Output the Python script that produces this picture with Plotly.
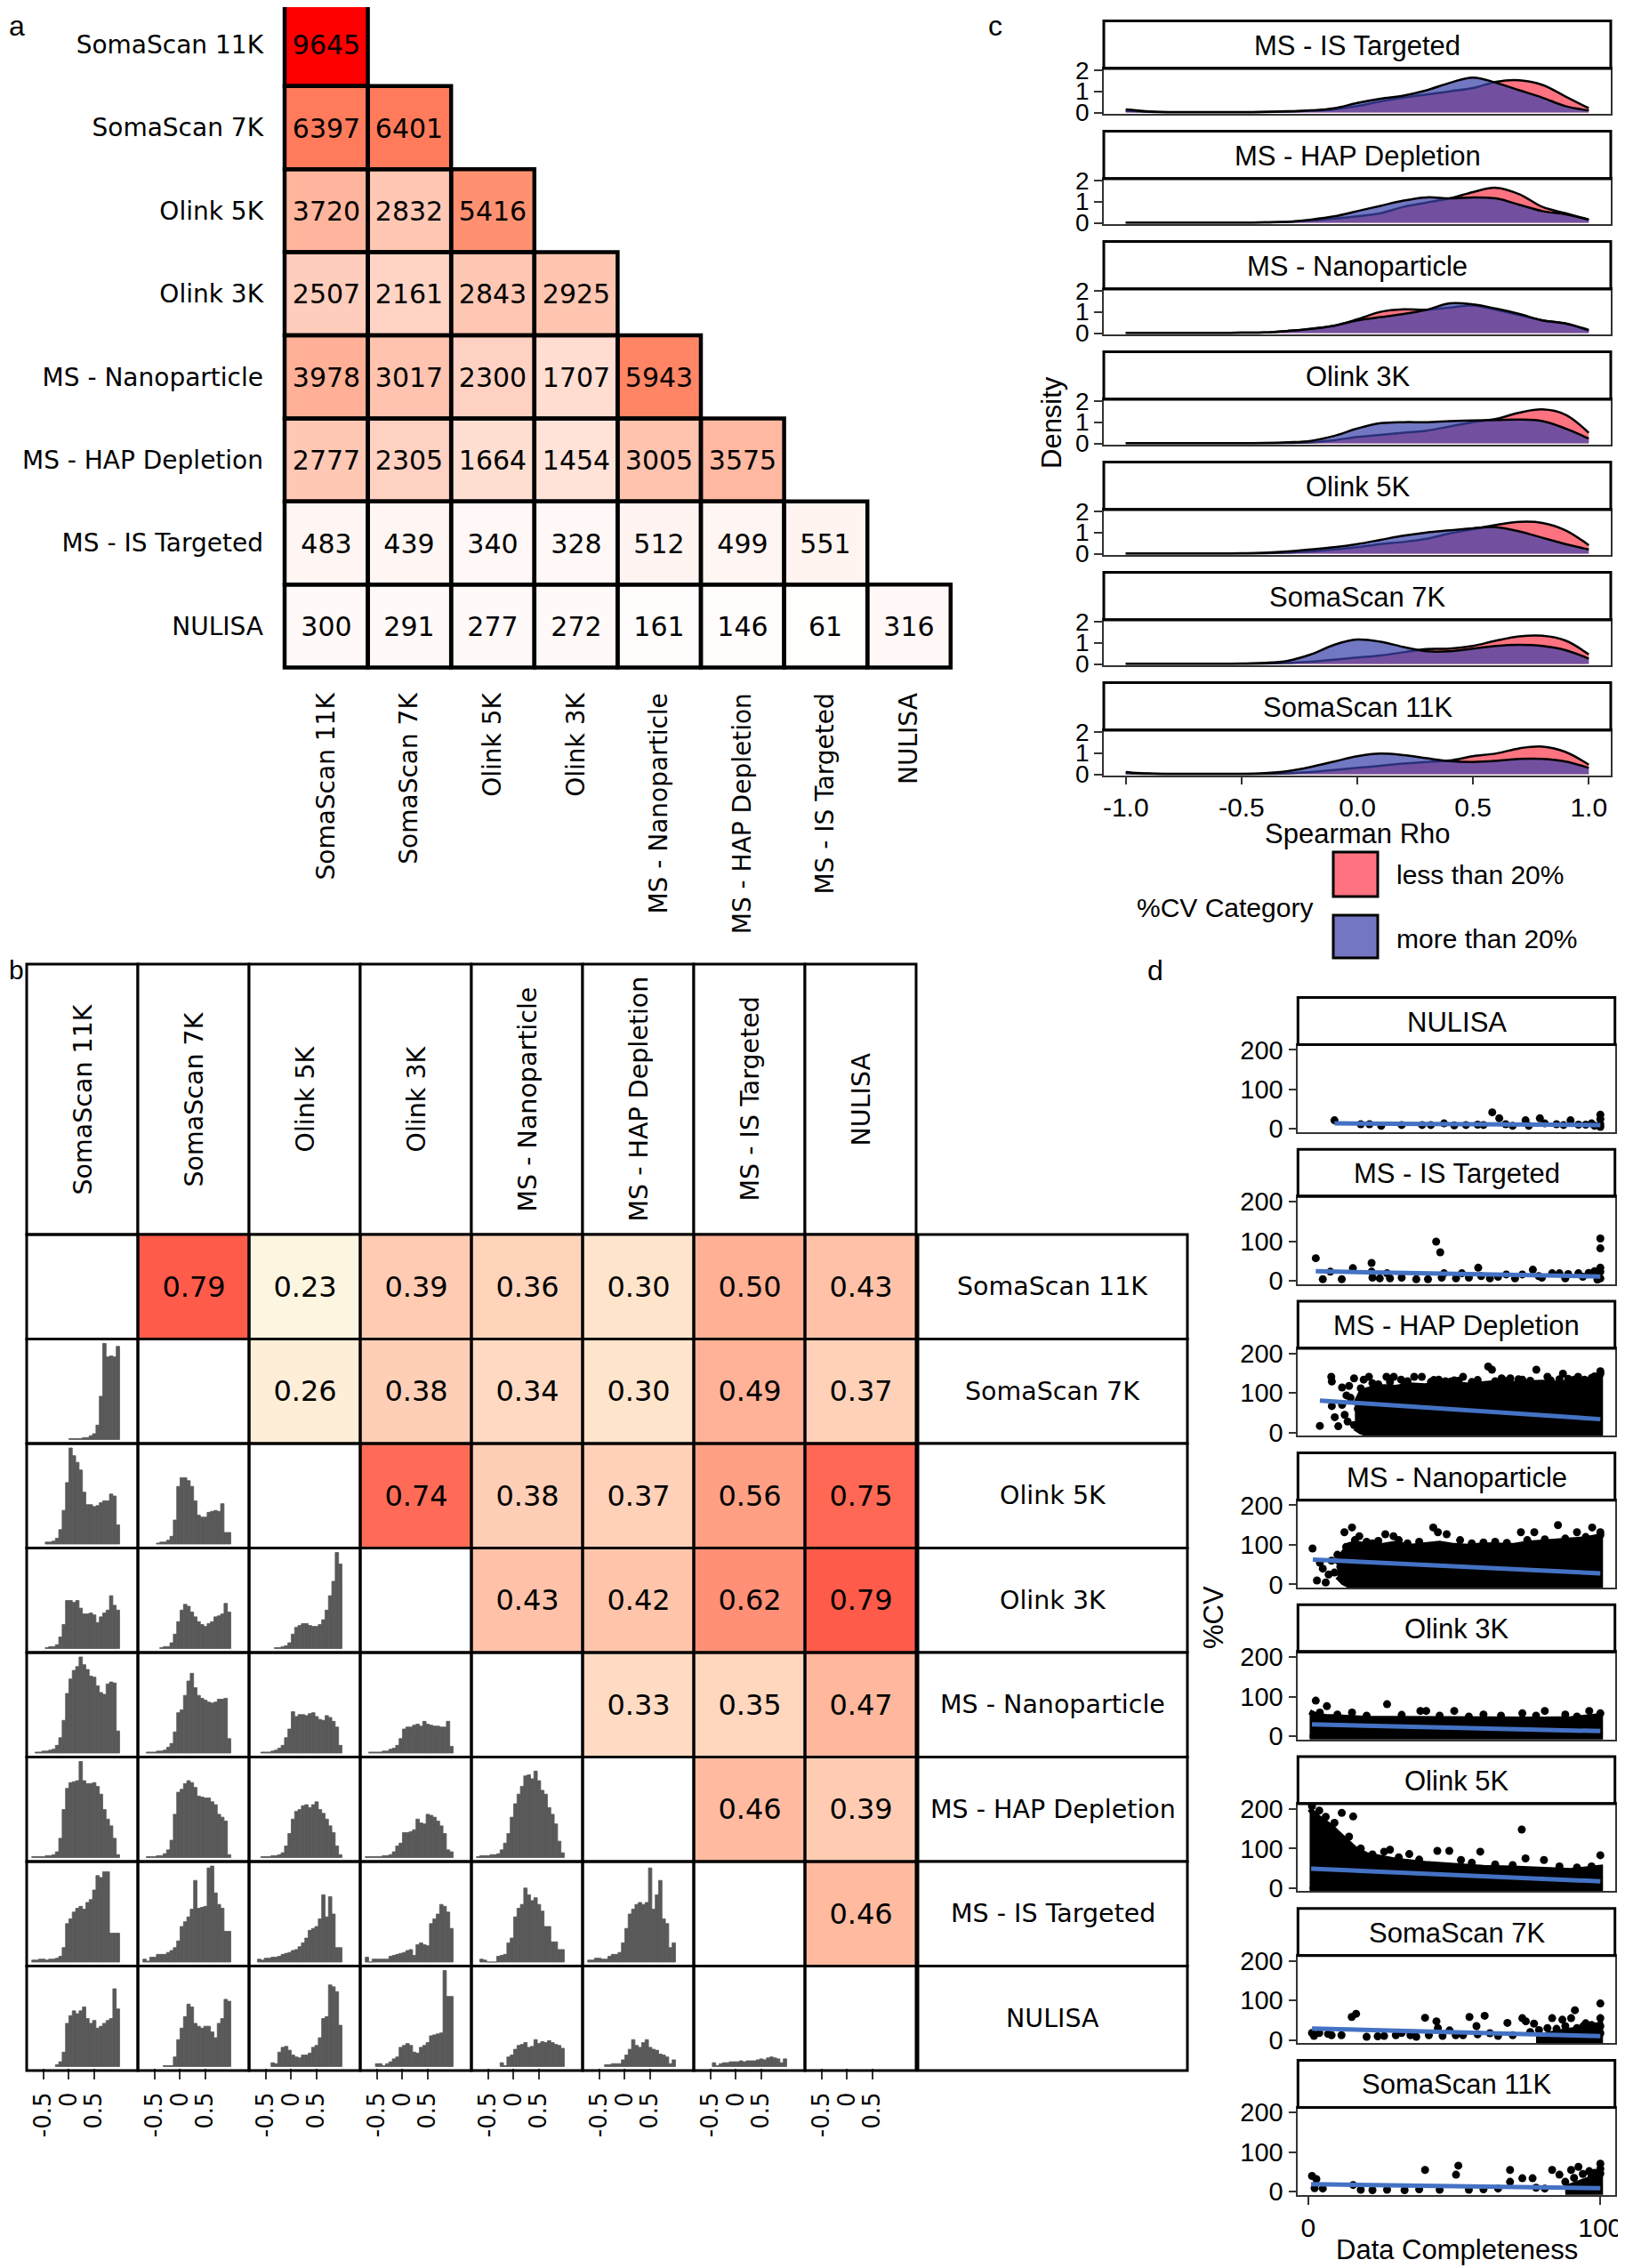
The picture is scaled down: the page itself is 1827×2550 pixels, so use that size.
import numpy as np
import plotly.graph_objects as go

W, H = 1827, 2550          # reference picture size
OFF = 8                    # page body margin in the browser
FIG_W, FIG_H = W - OFF, H - OFF

# ---------------------------------------------------------------- data
platforms = ["SomaScan 11K", "SomaScan 7K", "Olink 5K", "Olink 3K",
             "MS - Nanoparticle", "MS - HAP Depletion", "MS - IS Targeted", "NULISA"]

# panel a : overlap counts (lower triangle incl. diagonal)
overlap_counts = [
    [9645],
    [6397, 6401],
    [3720, 2832, 5416],
    [2507, 2161, 2843, 2925],
    [3978, 3017, 2300, 1707, 5943],
    [2777, 2305, 1664, 1454, 3005, 3575],
    [483, 439, 340, 328, 512, 499, 551],
    [300, 291, 277, 272, 161, 146, 61, 316],
]

# panel b : correlations (upper triangle)
corr_values = [
    [None, 0.79, 0.23, 0.39, 0.36, 0.30, 0.50, 0.43],
    [None, None, 0.26, 0.38, 0.34, 0.30, 0.49, 0.37],
    [None, None, None, 0.74, 0.38, 0.37, 0.56, 0.75],
    [None, None, None, None, 0.43, 0.42, 0.62, 0.79],
    [None, None, None, None, None, 0.33, 0.35, 0.47],
    [None, None, None, None, None, None, 0.46, 0.39],
    [None, None, None, None, None, None, None, 0.46],
    [None, None, None, None, None, None, None, None],
]

# panel b : histograms (row, col, first bin index, relative heights); bins of width 2/30 from -1
hist_bin_left = -1.0
hist_bin_width = 2 / 30
hist_r1 = [(1, 0, 15, [1, 1, 1, 1, 2, 2, 4, 6, 15, 45, 100, 86, 87, 86, 97])]
hist_r2 = [(2, 0, 8, [2, 2, 3, 6, 15, 35, 64, 100, 92, 85, 77, 54, 41, 41, 39, 40, 43, 45, 45, 52, 50, 20]),
           (2, 1, 8, [1, 2, 2, 4, 8, 25, 60, 69, 69, 66, 60, 45, 30, 28, 28, 33, 34, 35, 34, 42, 12, 12])]
hist_r3 = [(3, 0, 8, [1, 2, 2, 4, 12, 25, 50, 50, 48, 50, 42, 36, 36, 37, 35, 27, 33, 37, 40, 55, 45, 40]),
           (3, 1, 9, [1, 2, 2, 6, 15, 28, 40, 46, 44, 38, 33, 28, 25, 23, 26, 28, 33, 34, 36, 47, 38]),
           (3, 2, 10, [1, 1, 2, 3, 6, 15, 22, 24, 26, 26, 24, 23, 23, 25, 30, 40, 55, 70, 100, 88])]
hist_r4 = [(4, 0, 5, [1, 1, 2, 2, 3, 4, 8, 16, 34, 62, 77, 86, 90, 100, 92, 87, 80, 79, 70, 63, 61, 72, 74, 73, 23]),
           (4, 1, 5, [1, 1, 1, 2, 2, 3, 6, 10, 22, 42, 45, 60, 75, 83, 68, 60, 57, 55, 53, 52, 53, 56, 56, 57, 15]),
           (4, 2, 6, [1, 1, 1, 2, 3, 5, 8, 16, 25, 43, 38, 40, 40, 39, 41, 42, 38, 35, 34, 39, 37, 33, 27, 8]),
           (4, 3, 5, [1, 1, 1, 1, 2, 2, 4, 5, 8, 15, 25, 27, 27, 29, 30, 28, 33, 30, 29, 28, 28, 27, 27, 33, 7])]
hist_r5 = [(5, 0, 4, [1, 1, 1, 1, 2, 2, 3, 6, 20, 50, 72, 78, 79, 80, 100, 80, 77, 77, 78, 74, 66, 50, 40, 33, 20, 3]),
           (5, 1, 5, [1, 1, 1, 2, 2, 4, 8, 18, 45, 68, 71, 77, 80, 78, 73, 64, 63, 62, 62, 58, 55, 45, 42, 38, 3]),
           (5, 2, 6, [1, 1, 1, 2, 2, 3, 5, 12, 25, 40, 48, 50, 54, 55, 52, 55, 58, 50, 46, 40, 33, 26, 12, 3]),
           (5, 3, 4, [1, 1, 1, 1, 1, 2, 2, 3, 6, 12, 15, 26, 26, 27, 29, 40, 36, 35, 45, 44, 42, 38, 33, 25, 8, 6]),
           (5, 4, 4, [1, 2, 2, 2, 3, 3, 4, 8, 15, 25, 42, 56, 66, 74, 85, 86, 82, 90, 80, 70, 66, 52, 45, 35, 17, 5])]
hist_r6 = [(6, 0, 4, [2, 2, 3, 3, 2, 3, 3, 4, 6, 15, 40, 45, 52, 56, 58, 55, 62, 65, 75, 90, 88, 94, 94, 30, 30, 30]),
           (6, 1, 4, [3, 1, 5, 5, 8, 8, 8, 10, 12, 15, 22, 37, 42, 47, 55, 85, 56, 57, 58, 98, 100, 72, 60, 56, 32, 32]),
           (6, 2, 5, [3, 2, 4, 4, 5, 5, 6, 8, 9, 10, 12, 13, 16, 20, 25, 33, 35, 37, 45, 70, 47, 68, 50, 15, 15]),
           (6, 3, 4, [5, 0, 3, 3, 3, 3, 3, 6, 7, 8, 9, 10, 12, 13, 7, 18, 20, 18, 17, 40, 45, 50, 60, 58, 52, 35]),
           (6, 4, 5, [3, 2, 0, 0, 0, 6, 7, 8, 20, 25, 47, 56, 60, 77, 70, 64, 67, 60, 53, 37, 37, 21, 21, 13, 13]),
           (6, 5, 4, [2, 2, 4, 4, 3, 3, 6, 8, 8, 10, 20, 35, 50, 55, 60, 62, 60, 62, 98, 55, 70, 85, 45, 40, 15, 20])]
hist_r7 = [(7, 0, 11, [2, 5, 15, 45, 53, 58, 55, 58, 62, 50, 45, 48, 40, 42, 45, 48, 50, 81, 60]),
           (7, 1, 10, [1, 1, 1, 10, 28, 40, 52, 65, 62, 45, 42, 40, 42, 42, 36, 30, 45, 50, 70, 68]),
           (7, 2, 9, [4, 3, 15, 20, 21, 17, 12, 10, 9, 12, 12, 14, 20, 22, 30, 50, 52, 85, 83, 78, 43]),
           (7, 3, 7, [3, 3, 1, 3, 5, 8, 10, 20, 22, 24, 22, 15, 14, 20, 22, 25, 32, 33, 34, 35, 100, 73, 73]),
           (7, 4, 11, [4, 1, 10, 12, 18, 22, 23, 25, 20, 21, 28, 24, 26, 25, 27, 25, 23, 22, 19]),
           (7, 5, 9, [2, 2, 3, 3, 3, 7, 12, 18, 28, 22, 20, 25, 28, 20, 18, 17, 13, 12, 10, 3, 7]),
           (7, 6, 8, [4, 1, 3, 4, 4, 5, 5, 5, 6, 5, 6, 6, 6, 7, 8, 7, 9, 10, 9, 8, 4, 8])]
hist_tick_vals = [-0.5, 0, 0.5]
hist_tick_text = ["-0.5", "0", "0.5"]

# panel c : densities of Spearman rho by %CV category
rho_grid = [-1.0, -0.9, -0.8, -0.7, -0.6, -0.5, -0.4, -0.3, -0.2, -0.1, 0.0,
            0.1, 0.2, 0.3, 0.4, 0.5, 0.6, 0.7, 0.8, 0.9, 1.0]
density_facets = ["MS - IS Targeted", "MS - HAP Depletion", "MS - Nanoparticle",
                  "Olink 3K", "Olink 5K", "SomaScan 7K", "SomaScan 11K"]
less_is_targeted = [0.08, 0.03, 0.01, 0.01, 0.01, 0.01, 0.02, 0.04, 0.08, 0.15, 0.3, 0.52, 0.7, 0.85, 1.0, 1.15, 1.45, 1.52, 1.3, 0.75, 0.2]
more_is_targeted = [0.15, 0.05, 0.02, 0.02, 0.02, 0.02, 0.03, 0.06, 0.1, 0.2, 0.45, 0.65, 0.8, 1.05, 1.4, 1.65, 1.4, 1.05, 0.7, 0.3, 0.1]
less_hap = [0.01, 0.01, 0.01, 0.01, 0.01, 0.01, 0.02, 0.04, 0.1, 0.2, 0.3, 0.45, 0.75, 0.95, 1.15, 1.45, 1.65, 1.35, 0.75, 0.45, 0.15]
more_hap = [0.01, 0.01, 0.01, 0.01, 0.01, 0.01, 0.02, 0.05, 0.15, 0.3, 0.55, 0.8, 1.05, 1.2, 1.15, 1.2, 1.15, 0.85, 0.55, 0.4, 0.15]
less_nano = [0.01, 0.01, 0.01, 0.01, 0.01, 0.02, 0.03, 0.1, 0.2, 0.35, 0.65, 1.0, 1.12, 1.1, 1.2, 1.3, 1.1, 0.85, 0.6, 0.45, 0.1]
more_nano = [0.01, 0.01, 0.01, 0.01, 0.01, 0.02, 0.03, 0.1, 0.2, 0.35, 0.6, 0.75, 0.9, 1.1, 1.4, 1.35, 1.15, 0.9, 0.6, 0.45, 0.15]
less_olink3k = [0.01, 0.01, 0.01, 0.01, 0.01, 0.01, 0.01, 0.02, 0.05, 0.15, 0.3, 0.4, 0.5, 0.6, 0.8, 1.0, 1.15, 1.45, 1.6, 1.35, 0.5]
more_olink3k = [0.01, 0.01, 0.01, 0.01, 0.01, 0.01, 0.02, 0.05, 0.12, 0.35, 0.7, 0.95, 1.0, 1.0, 1.05, 1.08, 1.1, 1.12, 1.05, 0.7, 0.23]
less_olink5k = [0.01, 0.01, 0.01, 0.01, 0.01, 0.01, 0.02, 0.05, 0.1, 0.2, 0.3, 0.45, 0.55, 0.7, 0.95, 1.15, 1.35, 1.5, 1.45, 1.1, 0.4]
more_olink5k = [0.01, 0.01, 0.01, 0.01, 0.01, 0.02, 0.04, 0.1, 0.2, 0.3, 0.45, 0.65, 0.85, 1.0, 1.1, 1.2, 1.25, 1.05, 0.75, 0.45, 0.2]
less_soma7k = [0.01, 0.01, 0.01, 0.01, 0.01, 0.01, 0.02, 0.05, 0.1, 0.2, 0.3, 0.4, 0.55, 0.7, 0.72, 0.85, 1.1, 1.3, 1.33, 1.1, 0.45]
more_soma7k = [0.01, 0.01, 0.01, 0.01, 0.01, 0.02, 0.05, 0.15, 0.45, 0.9, 1.15, 1.05, 0.8, 0.6, 0.6, 0.72, 0.85, 0.9, 0.85, 0.65, 0.25]
less_soma11k = [0.05, 0.02, 0.01, 0.01, 0.01, 0.01, 0.02, 0.04, 0.1, 0.2, 0.3, 0.4, 0.5, 0.58, 0.65, 0.85, 0.98, 1.22, 1.3, 1.05, 0.45]
more_soma11k = [0.1, 0.04, 0.02, 0.02, 0.02, 0.02, 0.05, 0.15, 0.35, 0.6, 0.85, 0.97, 0.9, 0.75, 0.62, 0.58, 0.63, 0.72, 0.72, 0.6, 0.3]
density_less = [less_is_targeted, less_hap, less_nano, less_olink3k, less_olink5k, less_soma7k, less_soma11k]
density_more = [more_is_targeted, more_hap, more_nano, more_olink3k, more_olink5k, more_soma7k, more_soma11k]
rho_ticks = [-1.0, -0.5, 0.0, 0.5, 1.0]
rho_tick_text = ["-1.0", "-0.5", "0.0", "0.5", "1.0"]
cv_labels = ["less than 20%", "more than 20%"]

# panel d : %CV vs data completeness
cv_facets = ["NULISA", "MS - IS Targeted", "MS - HAP Depletion", "MS - Nanoparticle",
             "Olink 3K", "Olink 5K", "SomaScan 7K", "SomaScan 11K"]
nulisa_x = [9, 18, 21, 25, 32, 39, 42, 46.5, 50, 54, 58, 60, 63, 65.4, 67.6, 70, 74.4, 75.5, 79.3, 81, 85, 87.4, 89.8, 92.5, 95, 97, 98, 100, 100, 100, 100]
nulisa_y = [22, 12, 12, 8, 10, 10, 10, 14, 9, 10, 11, 10, 42, 27, 12, 8, 22, 8, 27, 14, 12, 10, 22, 11, 11, 14, 8, 36, 25, 12, 5]
istarg_x = [2.6, 5, 7.6, 11.5, 15.3, 21.7, 21.7, 22, 24.5, 27, 28, 32, 37, 41, 43.8, 45.2, 46.5, 45.7, 50.6, 52.6, 55, 58.2, 59.2, 62.2, 65, 67.8, 70.8, 73.3, 76.9, 78.9, 80, 83.5, 86, 88, 89, 92.5, 94, 96, 98, 99, 99, 100, 100, 100, 100, 100]
istarg_y = [57, 4, 23, 4, 32, 45, 23, 8, 6, 19, 6, 8, 4, 4, 99, 72, 19, 8, 6, 19, 8, 33, 12, 6, 10, 16, 6, 16, 28, 12, 8, 19, 19, 6, 17, 19, 10, 20, 24, 12, 3, 107, 82, 33, 23, 6]
hap_x = [4, 7.9, 8.1, 8.1, 9.1, 10.3, 11.6, 13.1, 11.6, 12.5, 13.5, 14.5, 14, 15.7, 15.7, 17, 18, 19, 20.8, 20.8, 22, 24, 26.8, 28, 29.3, 31.8, 33, 34, 36.3, 38.9, 42, 43, 44.7, 47, 48.8, 50, 51.5, 53, 56, 58, 61.6, 62.9, 64, 66.2, 67, 69.2, 72, 73.3, 76, 78.1, 81.9, 83, 86, 87.2, 89, 91, 92.4, 94.6, 97, 98, 100, 100]
hap_y = [17, 141, 129, 67, 39, 16, 114, 94, 70, 45, 28, 88, 118, 137, 19, 60, 112, 134, 141, 14, 125, 122, 141, 128, 141, 134, 124, 130, 141, 141, 128, 133, 134, 130, 129, 132, 131, 141, 128, 133, 167, 159, 130, 137, 132, 137, 135, 134, 131, 159, 141, 132, 135, 149, 136, 134, 141, 134, 138, 142, 149, 155]
hap_env_x = [16, 18, 20, 22, 26, 30, 35, 40, 45, 50, 55, 60, 65, 70, 75, 80, 85, 90, 95, 99, 100]
hap_env_top = [70, 100, 108, 112, 116, 114, 120, 118, 122, 123, 120, 125, 127, 124, 126, 127, 125, 128, 130, 138, 146]
hap_env_bottom = [12, 2, -3, -3, -3, -3, -3, -3, -3, -3, -3, -3, -3, -3, -3, -3, -3, -3, -3, -3, -3]
nano_x = [1.5, 3, 4, 5, 6, 7, 8, 9, 10, 11, 12.4, 13, 15, 16, 17.5, 20, 22, 24, 26.4, 29.2, 31, 34, 38, 42.8, 44.4, 47.4, 52, 56, 60, 64, 68, 72.8, 75, 77.4, 81, 85.5, 88, 92, 95, 97.2, 100, 100]
nano_y = [91, 10, 55, 40, 5, 25, 60, 30, 75, 45, 132, 95, 144, 112, 122, 108, 104, 110, 127, 122, 112, 104, 108, 144, 132, 127, 112, 104, 106, 108, 105, 132, 112, 132, 114, 150, 116, 132, 120, 144, 132, 125]
nano_env_x = [10, 12, 14, 16, 20, 25, 30, 35, 40, 45, 50, 55, 60, 65, 70, 75, 80, 85, 90, 95, 100]
nano_env_top = [50, 80, 100, 104, 100, 98, 104, 96, 100, 104, 98, 96, 100, 100, 98, 104, 106, 108, 110, 115, 122]
nano_env_bottom = [20, 5, -3, -3, -3, -3, -3, -3, -3, -3, -3, -3, -3, -3, -3, -3, -3, -3, -3, -3, -3]
olink3k_x = [2.6, 4, 6.4, 10, 15, 20, 27, 32, 38.4, 40.4, 45, 50, 55, 60, 66, 73.3, 78, 81, 88, 92, 96.2, 100]
olink3k_y = [90, 60, 76, 55, 60, 52, 81, 54, 64, 64, 52, 64, 50, 55, 52, 58, 52, 64, 55, 50, 64, 58]
olink3k_env_x = [0.5, 3, 6, 10, 15, 20, 30, 40, 50, 60, 70, 80, 90, 95, 100]
olink3k_env_top = [62, 52, 50, 48, 46, 45, 45, 44, 43, 43, 42, 43, 44, 47, 52]
olink3k_env_bottom = [-3] * 15
olink5k_x = [1.3, 3.8, 6, 9, 11.5, 14, 15.4, 18, 22, 26, 28, 31, 34.6, 38, 44.2, 48.3, 52.3, 56, 58.9, 64, 70, 73.1, 74.4, 80.7, 86, 92, 97, 100]
olink5k_y = [207, 196, 180, 165, 190, 130, 181, 100, 85, 92, 97, 78, 86, 72, 94, 94, 71, 64, 92, 60, 58, 148, 75, 71, 55, 52, 55, 83]
olink5k_env_x = [0.5, 2, 5, 8, 10, 13, 16, 20, 25, 30, 40, 50, 60, 70, 80, 90, 100]
olink5k_env_top = [200, 188, 170, 155, 140, 120, 100, 84, 76, 70, 62, 56, 52, 50, 46, 44, 52]
olink5k_env_bottom = [-3] * 17
soma7k_x = [1.3, 2, 3.8, 6.8, 8, 11.4, 14.9, 16.4, 20, 23.8, 26, 30, 32, 35, 37, 40, 41.3, 43.9, 44.4, 46, 48.4, 50.5, 53, 55.2, 57.6, 58, 60.4, 62.2, 65, 68.2, 70, 73.3, 74.5, 76, 77.3, 79, 81.9, 83.5, 85, 87, 88, 90, 91.3, 92, 94.2, 95, 96.2, 97, 98.2, 100, 100, 100, 100]
soma7k_y = [17.5, 10, 17.5, 15, 12, 12, 58, 66, 8, 9, 10, 12, 17.5, 12, 8, 56, 12, 47, 30, 10, 24, 12, 12, 58, 35, 14, 61, 17, 10, 43, 12, 55, 47, 20, 41, 25, 30, 55, 28, 51, 35, 55, 75, 30, 35, 42, 24, 38, 30, 92, 55, 35, 17]
soma7k_env_x = [78, 82, 86, 90, 94, 100]
soma7k_env_top = [8, 15, 20, 25, 28, 40]
soma7k_env_bottom = [-3] * 6
soma11k_x = [1.3, 2.8, 2.2, 5, 15.4, 18, 22, 27, 33, 38, 40, 45, 50.6, 51.4, 55, 60, 65, 69.1, 69.1, 73.3, 76.8, 78, 81, 83.5, 86, 88, 90, 91, 92.5, 94, 96.2, 97, 98, 100, 100, 100]
soma11k_y = [40, 32, 9, 8, 17, 5, 4, 5, 4, 6, 55, 5, 43, 66, 5, 6, 8, 55, 25, 34, 34, 10, 8, 55, 43, 25, 55, 35, 63, 45, 52, 40, 48, 71, 46, 58]
soma11k_env_x = [88, 91, 94, 97, 100]
soma11k_env_top = [10, 18, 28, 34, 40]
soma11k_env_bottom = [-3] * 5
cv_points = [(nulisa_x, nulisa_y), (istarg_x, istarg_y), (hap_x, hap_y), (nano_x, nano_y),
             (olink3k_x, olink3k_y), (olink5k_x, olink5k_y), (soma7k_x, soma7k_y), (soma11k_x, soma11k_y)]
cv_dense = [None, None, (hap_env_x, hap_env_top, hap_env_bottom), (nano_env_x, nano_env_top, nano_env_bottom),
            (olink3k_env_x, olink3k_env_top, olink3k_env_bottom), (olink5k_env_x, olink5k_env_top, olink5k_env_bottom),
            (soma7k_env_x, soma7k_env_top, soma7k_env_bottom), (soma11k_env_x, soma11k_env_top, soma11k_env_bottom)]
trend_x0 = [9, 2.6, 4, 1.6, 1.3, 1, 1.3, 1]
trend_y0 = [14, 24, 81, 63, 30, 49, 29, 19]
trend_x1 = [100, 100, 100, 100, 100, 100, 100, 100]
trend_y1 = [10, 11, 34, 28, 13, 17, 9.5, 9]
cv_yticks = [0, 100, 200]
dc_xticks = [0, 100]

# ---------------------------------------------------------------- colour helpers (Lab interpolation like ggplot)
def hex_to_rgb(h):
    h = h.lstrip('#')
    return [int(h[i:i + 2], 16) for i in (0, 2, 4)]

def rgb_to_lab(rgb):
    def lin(c):
        c = c / 255.0
        return c / 12.92 if c <= 0.04045 else ((c + 0.055) / 1.055) ** 2.4
    r, g, b = [lin(c) for c in rgb]
    X = 0.4124 * r + 0.3576 * g + 0.1805 * b
    Y = 0.2126 * r + 0.7152 * g + 0.0722 * b
    Z = 0.0193 * r + 0.1192 * g + 0.9505 * b
    d = 6 / 29
    def f(t):
        return t ** (1 / 3) if t > d ** 3 else t / (3 * d * d) + 4 / 29
    fx_, fy_, fz_ = f(X / 0.95047), f(Y), f(Z / 1.08883)
    return (116 * fy_ - 16, 500 * (fx_ - fy_), 200 * (fy_ - fz_))

def lab_to_rgb(lab):
    L, a, b = lab
    fy_ = (L + 16) / 116
    fx_ = fy_ + a / 500
    fz_ = fy_ - b / 200
    d = 6 / 29
    def finv(t):
        return t ** 3 if t > d else 3 * d * d * (t - 4 / 29)
    X, Y, Z = 0.95047 * finv(fx_), finv(fy_), 1.08883 * finv(fz_)
    r = 3.2406 * X - 1.5372 * Y - 0.4986 * Z
    g = -0.9689 * X + 1.8758 * Y + 0.0415 * Z
    bb = 0.0557 * X - 0.2040 * Y + 1.0570 * Z
    def gam(c):
        c = max(0.0, min(1.0, c))
        v = 12.92 * c if c <= 0.0031308 else 1.055 * c ** (1 / 2.4) - 0.055
        return int(round(max(0.0, min(1.0, v)) * 255))
    return 'rgb(%d,%d,%d)' % (gam(r), gam(g), gam(bb))

def lab_scale(lo, hi, n=20):
    l1, l2 = rgb_to_lab(hex_to_rgb(lo)), rgb_to_lab(hex_to_rgb(hi))
    return [[i / n, lab_to_rgb(tuple(l1[k] + (l2[k] - l1[k]) * i / n for k in range(3)))] for i in range(n + 1)]

# ---------------------------------------------------------------- figure scaffolding
fig = go.Figure()
layout = dict(width=FIG_W, height=FIG_H, margin=dict(l=0, r=0, t=0, b=0, autoexpand=False), paper_bgcolor='white',
              plot_bgcolor='rgba(0,0,0,0)', showlegend=False, barmode='overlay',
              font=dict(family='DejaVu Sans', color='black'))
shapes, annotations = [], []
axis_n = [0]

def clamp01(v):
    return max(0.0, min(1.0, v))

def px_x(p):
    return (p - OFF) / FIG_W

def px_y(p):
    return 1 - (p - OFF) / FIG_H

def add_axes(x0, x1, y0, y1, xa, ya):
    axis_n[0] += 1
    n = axis_n[0]
    s = '' if n == 1 else str(n)
    xa = dict(xa)
    ya = dict(ya)
    xa.update(domain=[clamp01(px_x(x0)), clamp01(px_x(x1))], anchor='y' + s)
    ya.update(domain=[clamp01(px_y(y1)), clamp01(px_y(y0))], anchor='x' + s)
    layout['xaxis' + s] = xa
    layout['yaxis' + s] = ya
    return 'x' + s, 'y' + s

def text(x, y, s, size, family='DejaVu Sans', angle=0, xanchor='center', yanchor='middle'):
    annotations.append(dict(x=px_x(x), y=px_y(y), xref='paper', yref='paper', text=s, showarrow=False,
                            textangle=angle, xanchor=xanchor, yanchor=yanchor,
                            font=dict(family=family, size=size, color='black')))

def box(x0, y0, x1, y1, width=3, fill='white', layer='below'):
    shapes.append(dict(type='rect', xref='paper', yref='paper', x0=px_x(x0), x1=px_x(x1),
                       y0=px_y(y1), y1=px_y(y0), line=dict(color='black', width=width),
                       fillcolor=fill, layer=layer))

hidden = dict(showgrid=False, zeroline=False, showline=False, ticks='', showticklabels=False)
NP = len(platforms)

# ---------------------------------------------------------------- panel a
A_X0, A_Y0, A_CW, A_CH = 320, 3.4, 93.6, 93.4
pl, pr, pb = 5, 5, 5
a_top = max(A_Y0 - 3, OFF)          # visible top of the panel
xa = dict(range=[-0.5 - pl / A_CW, NP - 0.5 + pr / A_CW], tickvals=list(range(NP)), ticktext=platforms,
          tickangle=-90, ticks='', showgrid=False, zeroline=False, showline=False, ticklabelstandoff=17,
          tickfont=dict(family='DejaVu Sans', size=28, color='black'))
ya = dict(range=[NP - 0.5 + pb / A_CH, -0.5 - (A_Y0 - a_top) / A_CH], tickvals=list(range(NP)), ticktext=platforms,
          ticks='', showgrid=False, zeroline=False, showline=False, ticklabelstandoff=18,
          tickfont=dict(family='DejaVu Sans', size=28, color='black'))
ax, ay = add_axes(A_X0 - pl, A_X0 + NP * A_CW + pr, a_top, A_Y0 + NP * A_CH + pb, xa, ya)
za = [[(overlap_counts[r][c] if c <= r else None) for c in range(NP)] for r in range(NP)]
ta = [[(str(overlap_counts[r][c]) if c <= r else '') for c in range(NP)] for r in range(NP)]
fig.add_trace(go.Heatmap(z=za, x=list(range(NP)), y=list(range(NP)), text=ta, texttemplate='%{text}',
                         textfont=dict(family='DejaVu Sans', size=30, color='black'),
                         colorscale=lab_scale('#FFFFFF', '#FF0000'), zmin=0, zmax=max(max(r) for r in overlap_counts),
                         showscale=False, hoverinfo='skip', xaxis=ax, yaxis=ay))
for r in range(NP):
    for c in range(r + 1):
        shapes.append(dict(type='rect', xref=ax, yref=ay, x0=c - 0.5, x1=c + 0.5, y0=r - 0.5, y1=r + 0.5,
                           line=dict(color='black', width=4.5), layer='above'))

# ---------------------------------------------------------------- panel b
B_X0, B_Y0, B_CW, B_CH = 30, 1388, 125, 117.5
bp = 4
xa = dict(range=[-0.5 - bp / B_CW, NP - 0.5 + bp / B_CW], **hidden)
ya = dict(range=[NP - 0.5 + bp / B_CH, -0.5 - bp / B_CH], **hidden)
bx, by = add_axes(B_X0 - bp, B_X0 + NP * B_CW + bp, B_Y0 - bp, B_Y0 + NP * B_CH + bp, xa, ya)
tb = [[('%.2f' % v if v is not None else '') for v in row] for row in corr_values]
fig.add_trace(go.Heatmap(z=corr_values, x=list(range(NP)), y=list(range(NP)), text=tb, texttemplate='%{text}',
                         textfont=dict(family='DejaVu Sans', size=32, color='black'),
                         colorscale=lab_scale('#FCF5E0', '#FF5B4A'), zmin=0.23, zmax=0.79,
                         showscale=False, hoverinfo='skip', xaxis=bx, yaxis=by))
for r in range(NP):
    for c in range(NP):
        shapes.append(dict(type='rect', xref=bx, yref=by, x0=c - 0.5, x1=c + 0.5, y0=r - 0.5, y1=r + 0.5,
                           line=dict(color='black', width=3), layer='above'))

# header strips (top and right)
for c in range(NP):
    box(B_X0 + c * B_CW, 1084, B_X0 + (c + 1) * B_CW, B_Y0, width=3)
    text(B_X0 + (c + 0.5) * B_CW, (1084 + B_Y0) / 2, platforms[c], 28.5, angle=-90)
for r in range(NP):
    box(1032, B_Y0 + r * B_CH, 1335, B_Y0 + (r + 1) * B_CH, width=3)
    text((1032 + 1335) / 2, B_Y0 + (r + 0.5) * B_CH, platforms[r], 28.5)

# histograms
PX_PER_UNIT = 57.0
LEFT_VAL = -0.833
ins = 3
hy_lo = -1.5 / 108 * 100
hy_hi = 100 + 2.0 / 108 * 100
all_hists = hist_r1 + hist_r2 + hist_r3 + hist_r4 + hist_r5 + hist_r6 + hist_r7
tick_cols = set()

def hist_xaxis(bottom):
    xr = [LEFT_VAL + ins / PX_PER_UNIT, LEFT_VAL + (B_CW - ins) / PX_PER_UNIT]
    return dict(range=xr, showgrid=False, zeroline=False, showline=False,
                ticks='outside' if bottom else '', showticklabels=bottom, tickvals=hist_tick_vals,
                ticktext=hist_tick_text, tickangle=-90, ticklen=12, tickwidth=2, tickcolor='#333333',
                ticklabelstandoff=4, tickfont=dict(family='DejaVu Sans', size=26, color='black'))

for (r, c, first, heights) in all_hists:
    bottom = (r == NP - 1)
    ya = dict(range=[hy_lo, hy_hi], **hidden)
    hx, hy = add_axes(B_X0 + c * B_CW + ins, B_X0 + (c + 1) * B_CW - ins,
                      B_Y0 + r * B_CH + ins, B_Y0 + (r + 1) * B_CH - ins, hist_xaxis(bottom), ya)
    centers = [hist_bin_left + (first + i + 0.5) * hist_bin_width for i in range(len(heights))]
    fig.add_trace(go.Bar(x=centers, y=heights, width=hist_bin_width,
                         marker=dict(color='#595959', line=dict(width=0.8, color='#595959')),
                         hoverinfo='skip', xaxis=hx, yaxis=hy))
    if bottom:
        tick_cols.add(c)
for c in range(NP):
    if c in tick_cols:
        continue
    r = NP - 1
    ya = dict(range=[hy_lo, hy_hi], **hidden)
    hx, hy = add_axes(B_X0 + c * B_CW + ins, B_X0 + (c + 1) * B_CW - ins,
                      B_Y0 + r * B_CH + ins, B_Y0 + (r + 1) * B_CH - ins, hist_xaxis(True), ya)
    fig.add_trace(go.Scatter(x=[None], y=[None], mode='markers', hoverinfo='skip', xaxis=hx, yaxis=hy))

# ---------------------------------------------------------------- panel c
RED_FILL = 'rgb(255,115,128)'
BLUE_FILL = 'rgba(60,66,170,0.72)'
C_X0, C_X1 = 1241, 1811
C_PERIOD = 124.0
for k, name in enumerate(density_facets):
    st = 23.6 + C_PERIOD * k
    sb = 77.0 + C_PERIOD * k
    pbot = 127.7 + C_PERIOD * k
    last = (k == len(density_facets) - 1)
    xa = dict(range=[-1.095, 1.095], showgrid=False, zeroline=False, showline=True, mirror=True,
              linecolor='#333333', linewidth=1.5, ticks='outside' if last else '', showticklabels=last,
              tickvals=rho_ticks, ticktext=rho_tick_text, ticklen=9, tickwidth=2, tickcolor='#333333',
              tickfont=dict(family='Liberation Sans', size=30, color='black'))
    ya = dict(range=[-0.05, 2.075], showgrid=False, zeroline=False, showline=True, mirror=True,
              linecolor='#333333', linewidth=1.5, ticks='outside', tickvals=[0, 1, 2], ticklen=9, tickwidth=2,
              tickcolor='#333333', tickfont=dict(family='Liberation Sans', size=28, color='black'))
    cx, cy = add_axes(C_X0, C_X1, sb, pbot, xa, ya)
    fig.add_trace(go.Scatter(x=rho_grid, y=density_less[k], mode='lines', fill='tozeroy', fillcolor=RED_FILL,
                             line=dict(color='black', width=2.5, shape='spline', smoothing=1),
                             hoverinfo='skip', xaxis=cx, yaxis=cy))
    fig.add_trace(go.Scatter(x=rho_grid, y=density_more[k], mode='lines', fill='tozeroy', fillcolor=BLUE_FILL,
                             line=dict(color='black', width=2.5, shape='spline', smoothing=1),
                             hoverinfo='skip', xaxis=cx, yaxis=cy))
    box(C_X0, st, C_X1, sb, width=3, layer='above', fill='rgba(0,0,0,0)')
    box(C_X0, st, C_X1, sb, width=0, layer='below', fill='white')
    text((C_X0 + C_X1) / 2, (st + sb) / 2 + 1, name, 31, family='Liberation Sans')
text(1182, 475, 'Density', 31, family='Liberation Sans', angle=-90)
text((C_X0 + C_X1) / 2, 937, 'Spearman Rho', 31, family='Liberation Sans')
# legend
text(1377, 1020, '%CV Category', 30, family='Liberation Sans')
box(1499, 958, 1549, 1008, width=3, fill=RED_FILL, layer='above')
box(1499, 1029, 1549, 1077, width=3, fill='rgb(115,119,194)', layer='above')
text(1568, 983, cv_labels[0], 30, family='Liberation Sans', xanchor='left')
text(1568, 1055, cv_labels[1], 30, family='Liberation Sans', xanchor='left')

# ---------------------------------------------------------------- panel d
D_X0, D_X1 = 1459.3, 1815.7
D_PERIOD = 170.7
for k, name in enumerate(cv_facets):
    st = 1121.5 + D_PERIOD * k
    sb = st + 53.1
    pbot = st + 151.4
    last = (k == len(cv_facets) - 1)
    xa = dict(range=[-3.5, 105], showgrid=False, zeroline=False, showline=True, mirror=True,
              linecolor='#333333', linewidth=1.5, ticks='outside' if last else '', showticklabels=last,
              tickvals=dc_xticks, ticklen=9, tickwidth=2, tickcolor='#333333',
              tickfont=dict(family='Liberation Sans', size=30, color='black'))
    ya = dict(range=[-8, 213], showgrid=False, zeroline=False, showline=True, mirror=True,
              linecolor='#333333', linewidth=1.5, ticks='outside', tickvals=cv_yticks, ticklen=9, tickwidth=2,
              tickcolor='#333333', tickfont=dict(family='Liberation Sans', size=29, color='black'))
    dx, dy = add_axes(D_X0, D_X1, sb, pbot, xa, ya)
    dense = cv_dense[k]
    if dense is not None:
        ex, et, eb = dense
        fig.add_trace(go.Scatter(x=list(ex) + list(ex)[::-1], y=list(et) + list(eb)[::-1], mode='lines',
                                 fill='toself', fillcolor='black', line=dict(color='black', width=6),
                                 hoverinfo='skip', xaxis=dx, yaxis=dy))
    px_, py_ = cv_points[k]
    fig.add_trace(go.Scatter(x=px_, y=py_, mode='markers', marker=dict(color='black', size=9),
                             hoverinfo='skip', xaxis=dx, yaxis=dy))
    fig.add_trace(go.Scatter(x=[trend_x0[k], trend_x1[k]], y=[trend_y0[k], trend_y1[k]], mode='lines',
                             line=dict(color='#4472C4', width=5), hoverinfo='skip', xaxis=dx, yaxis=dy))
    box(D_X0, st, D_X1, sb, width=3, layer='above', fill='rgba(0,0,0,0)')
    box(D_X0, st, D_X1, sb, width=0, layer='below', fill='white')
    text((D_X0 + D_X1) / 2, (st + sb) / 2 + 1, name, 31, family='Liberation Sans')
text(1364, 1819, '%CV', 31, family='Liberation Sans', angle=-90)
text(1638, 2529, 'Data Completeness', 31, family='Liberation Sans')

# ---------------------------------------------------------------- panel letters
text(OFF, OFF + 0.5, 'a', 32, family='Liberation Sans', xanchor='left', yanchor='top')
text(OFF, 1090, 'b', 30, family='Liberation Sans', xanchor='left')
text(1119, OFF + 0.5, 'c', 32, family='Liberation Sans', yanchor='top')
text(1299, 1091, 'd', 32, family='Liberation Sans')

layout['shapes'] = shapes
layout['annotations'] = annotations
fig.update_layout(**layout)
fig.write_html('out.html')
